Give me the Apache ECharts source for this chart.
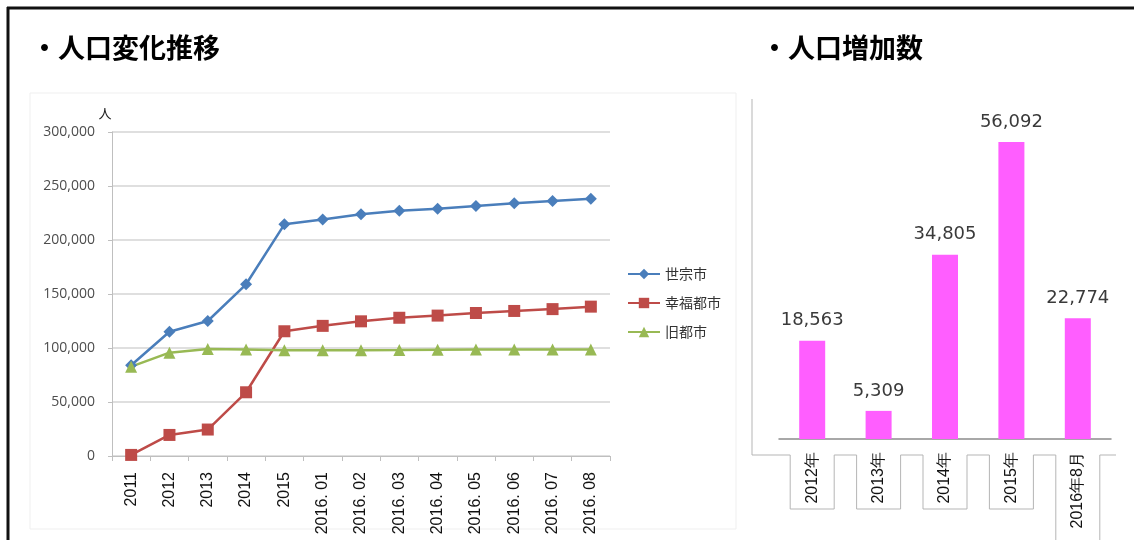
<!DOCTYPE html>
<html>
<head>
<meta charset="utf-8">
<script src="https://cdn.jsdelivr.net/npm/echarts@6/dist/echarts.min.js"></script>
<style>
  html, body { margin: 0; padding: 0; background: #fff; }
  #main { width: 1134px; height: 540px; }
</style>
</head>
<body>
<div id="main"></div>
<script>
// 人口変化推移
var months = ['2011', '2012', '2013', '2014', '2015', '2016. 01', '2016. 02', '2016. 03',
  '2016. 04', '2016. 05', '2016. 06', '2016. 07', '2016. 08'];
var sejong = [84000, 115000, 125000, 159000, 214500, 219000, 223800, 227000, 229000, 231500, 234000, 236000, 238200];
var happyCity = [1000, 19500, 24500, 59000, 115500, 120500, 124700, 128000, 130000, 132400, 134300, 136000, 138300];
var oldCity = [82700, 95700, 99000, 98500, 98000, 98000, 98000, 98100, 98300, 98500, 98700, 98700, 98700];
var yTicks = { min: 0, max: 300000, interval: 50000 };

// 人口増加数
var periods = ['2012年', '2013年', '2014年', '2015年', '2016年8月'];
var increase = [18563, 5309, 34805, 56092, 22774];

var numFmt = function (v) {
  return String(v).replace(/\B(?=(\d{3})+(?!\d))/g, ',');
};

var chart = echarts.init(document.getElementById('main'));

chart.setOption({
  backgroundColor: '#fff',
  animation: false,
  title: [
    {
      text: '・人口変化推移', left: 26, top: 29,
      textStyle: { fontFamily: 'Noto Sans CJK JP', fontWeight: 'bold', fontSize: 27, color: '#000' }
    },
    {
      text: '・人口増加数', left: 756, top: 29,
      textStyle: { fontFamily: 'Noto Sans CJK JP', fontWeight: 'bold', fontSize: 27, color: '#000' }
    }
  ],
  legend: {
    orient: 'vertical',
    left: 622,
    top: 262,
    itemWidth: 32,
    itemHeight: 13,
    itemGap: 15,
    data: ['世宗市', '幸福都市', '旧都市'],
    textStyle: { fontFamily: 'Noto Sans CJK JP', fontSize: 14, color: '#333' }
  },
  grid: [
    { left: 112, top: 132, width: 498, height: 324 },
    { left: 779, top: 100, width: 332, height: 339 }
  ],
  xAxis: [
    {
      type: 'category',
      gridIndex: 0,
      data: months,
      boundaryGap: true,
      axisLine: { lineStyle: { color: '#bfbfbf', width: 1 } },
      axisTick: { show: true, length: 5, lineStyle: { color: '#bfbfbf' } },
      axisLabel: {
        rotate: 90, margin: 16, interval: 0,
        fontFamily: 'Liberation Sans Narrow, Liberation Sans, Arial', fontSize: 16, color: '#111'
      }
    },
    {
      type: 'category',
      gridIndex: 1,
      data: periods,
      axisLine: { lineStyle: { color: '#8c8c8c', width: 1.5 } },
      axisTick: { show: false },
      axisLabel: {
        rotate: 90, margin: 13, interval: 0,
        fontFamily: 'Liberation Sans Narrow, Liberation Sans, Arial', fontSize: 16, color: '#111'
      }
    }
  ],
  yAxis: [
    {
      type: 'value',
      gridIndex: 0,
      min: yTicks.min,
      max: yTicks.max,
      interval: yTicks.interval,
      name: '人',
      nameLocation: 'end',
      nameGap: 12,
      nameTextStyle: { fontFamily: 'Noto Sans CJK JP', fontSize: 13, color: '#222', align: 'center', padding: [0, 14, 0, 0] },
      axisLine: { show: true, lineStyle: { color: '#bfbfbf' } },
      axisTick: { show: true, length: 4, lineStyle: { color: '#bfbfbf' } },
      splitLine: { lineStyle: { color: '#d4d4d4', width: 1.5 } },
      axisLabel: {
        margin: 17, formatter: numFmt,
        fontFamily: 'Open Sans, DejaVu Sans', fontSize: 14, color: '#4d4d4d'
      }
    },
    {
      type: 'value',
      gridIndex: 1,
      min: 0,
      max: 64000,
      show: false,
      splitLine: { show: false }
    }
  ],
  series: [
    {
      name: '世宗市', type: 'line', xAxisIndex: 0, yAxisIndex: 0,
      data: sejong, symbol: 'diamond', symbolSize: 12,
      lineStyle: { color: '#4a7ebb', width: 2.5 },
      itemStyle: { color: '#4a7ebb' }
    },
    {
      name: '幸福都市', type: 'line', xAxisIndex: 0, yAxisIndex: 0,
      data: happyCity, symbol: 'rect', symbolSize: 12,
      lineStyle: { color: '#be4b48', width: 2.5 },
      itemStyle: { color: '#be4b48' }
    },
    {
      name: '旧都市', type: 'line', xAxisIndex: 0, yAxisIndex: 0,
      data: oldCity, symbol: 'triangle', symbolSize: 12,
      lineStyle: { color: '#98b954', width: 2.5 },
      itemStyle: { color: '#98b954' }
    },
    {
      name: '人口増加数', type: 'bar', xAxisIndex: 1, yAxisIndex: 1,
      data: increase, barWidth: 26,
      itemStyle: { color: '#ff5eff' },
      label: {
        show: true, position: 'top', distance: 11, formatter: function (p) { return numFmt(p.value); },
        fontFamily: 'DejaVu Sans', fontSize: 18, color: '#3a3a3a'
      }
    }
  ]
});

// 枠線と右側ラベルの囲み
var baseY = chart.convertToPixel({ yAxisIndex: 1 }, 0);
var boxTop = baseY + 16;
var pts = [[752, 99], [752, boxTop]];
periods.forEach(function (p, i) {
  var cx = chart.convertToPixel({ xAxisIndex: 1 }, p);
  var bottom = i === periods.length - 1 ? 545 : boxTop + 54;
  pts.push([cx - 22, boxTop], [cx - 22, bottom], [cx + 22, bottom], [cx + 22, boxTop]);
});
pts.push([1116, boxTop]);

chart.setOption({
  graphic: [
    { type: 'rect', shape: { x: 30, y: 93, width: 706, height: 436 }, style: { fill: null, stroke: '#efefef', lineWidth: 1 }, z: -1 },
    { type: 'polyline', shape: { points: pts }, style: { fill: null, stroke: '#b5b5b5', lineWidth: 1 } },
    { type: 'line', shape: { x1: 7, y1: 8, x2: 1134, y2: 8 }, style: { stroke: '#111', lineWidth: 3 } },
    { type: 'line', shape: { x1: 8, y1: 7, x2: 8, y2: 540 }, style: { stroke: '#111', lineWidth: 3 } }
  ]
});
</script>
</body>
</html>
